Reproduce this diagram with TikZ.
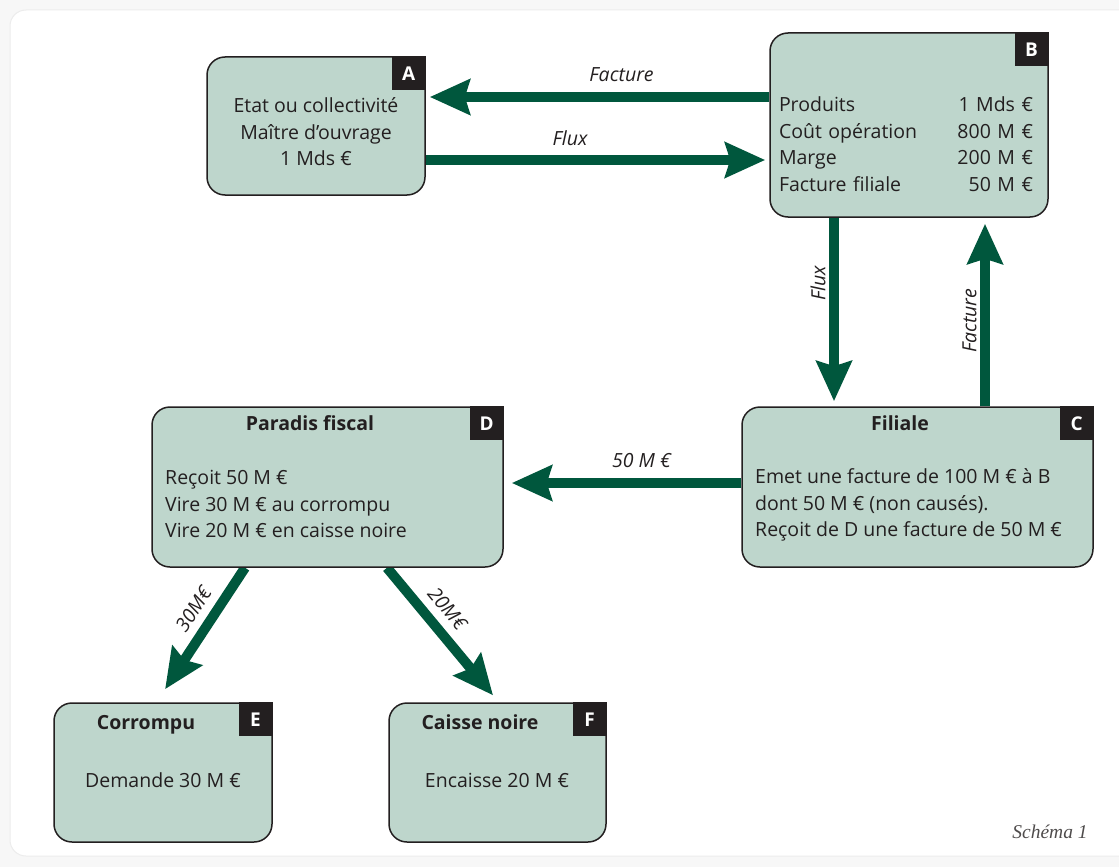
\documentclass[tikz,border=0pt]{standalone}
\usepackage{fontspec}
\setmainfont{Open Sans}
\newfontfamily\schemafont{Liberation Serif}
\usetikzlibrary{arrows.meta,positioning,backgrounds}
\definecolor{boxfill}{HTML}{BED6CC}
\definecolor{flowgreen}{HTML}{00573D}
\definecolor{ink}{HTML}{231F20}

\begin{document}
\begin{tikzpicture}[
          x=1pt, y=-1pt,
          every node/.style={text=ink, font=\fontsize{19.5}{26.5}\selectfont},
          stage/.style={draw=ink, line width=1.5pt, fill=boxfill, rounded corners=18pt},
          badge/.style={fill=ink, text=white, font=\bfseries\fontsize{19}{19}\selectfont,
                        minimum size=34pt, inner sep=0pt, anchor=north east},
          heading/.style={font=\bfseries\fontsize{19.5}{19.5}\selectfont, anchor=base},
          body/.style={anchor=base},
          flow/.style={draw=flowgreen, line width=10pt, -{Stealth[length=40pt, width=35pt, inset=5pt]}},
          tag/.style={font=\itshape\fontsize{19.5}{19.5}\selectfont}
    ]
      \useasboundingbox (0,0) rectangle (1119,867);
      \begin{scope}[on background layer]
        \fill[gray!6] (0,0) rectangle (1119,867);
        \draw[gray!15, line width=1pt, fill=white, rounded corners=16pt] (10,10) rectangle (1140,856);
      \end{scope}

      % boxes
      \node[stage, minimum width=218pt, minimum height=138pt] (A) at (316,126) {};
      \node[stage, minimum width=278pt, minimum height=184pt] (B) at (909,125) {};
      \node[stage, minimum width=351pt, minimum height=160pt] (C) at (917.5,487) {};
      \node[stage, minimum width=351pt, minimum height=160pt] (D) at (327.5,487) {};
      \node[stage, minimum width=218pt, minimum height=139pt] (E) at (163,772.5) {};
      \node[stage, minimum width=217pt, minimum height=139pt] (F) at (497.5,772.5) {};

      \node[badge] (A-tag) at (A.north east) {A};
      \node[badge] (B-tag) at (B.north east) {B};
      \node[badge] (C-tag) at (C.north east) {C};
      \node[badge] (D-tag) at (D.north east) {D};
      \node[badge] (E-tag) at (E.north east) {E};
      \node[badge] (F-tag) at (F.north east) {F};

      \node[align=center] (A-text) at (316,132) {Etat ou collectivité\\Maître d'ouvrage\\1 Mds €};
      \node[text width=254pt, align=left, inner sep=0pt] (B-text) at (906,144)
        {Produits\hfill 1 Mds €\\Coût opération\hfill 800 M €\\Marge\hfill 200 M €\\Facture filiale\hfill 50 M €};

      \node[heading] (C-title) at (900,430) {Filiale};
      \node[anchor=west, align=left, inner sep=0pt] (C-text) at (755,505)
        {Emet une facture de 100 M € à B\\dont 50 M € (non causés).\\Reçoit de D une facture de 50 M €};

      \node[heading] (D-title) at (310,430) {Paradis fiscal};
      \node[anchor=west, align=left, inner sep=0pt] (D-text) at (165,504)
        {Reçoit 50 M €\\Vire 30 M € au corrompu\\Vire 20 M € en caisse noire};

      \node[heading] (E-title) at (146,729) {Corrompu};
      \node[body] (E-text) at (163,787) {Demande 30 M €};
      \node[heading] (F-title) at (480,729) {Caisse noire};
      \node[body] (F-text) at (497,787) {Encaisse 20 M €};

      % flows
      \begin{scope}[on background layer]
        \draw[flow, shorten >=4pt] (B.west |- 0,97) -- (A.east |- 0,97)
            node[tag, pos=0.43, above=7pt] {Facture};
        \draw[flow, shorten >=4pt] (A.east |- 0,160) -- (B.west |- 0,160)
            node[tag, pos=0.42, above=6pt] {Flux};
        \draw[flow, shorten >=5pt] (B.south -| 834,0) -- (C.north -| 834,0)
            node[tag, rotate=90, pos=0.38, above=6pt] {Flux};
        \draw[flow, shorten >=6pt] (C.north -| 985,0) -- (B.south -| 985,0)
            node[tag, rotate=90, pos=0.4, above=10pt] {Facture};
        \draw[flow, shorten >=8pt] (C.west |- 0,483) -- (D.east |- 0,483)
            node[tag, pos=0.42, above=7pt] {50 M €};
        \draw[flow, shorten >=15.6pt] (D.south -| 245,0) -- (E.north -| 156.5,0)
            node[tag, sloped, pos=0.39, above=5pt] {30M€};
        \draw[flow, shorten >=9pt] (D.south -| 387,0) -- (F.north -| 498.8,0)
            node[tag, sloped, pos=0.4, above=5pt] {20M€};
      \end{scope}

      \node[font=\schemafont\itshape\fontsize{19.5}{19.5}\selectfont, text=ink!80] (caption) at (1050,832) {Schéma 1};

\end{tikzpicture}
\end{document}
